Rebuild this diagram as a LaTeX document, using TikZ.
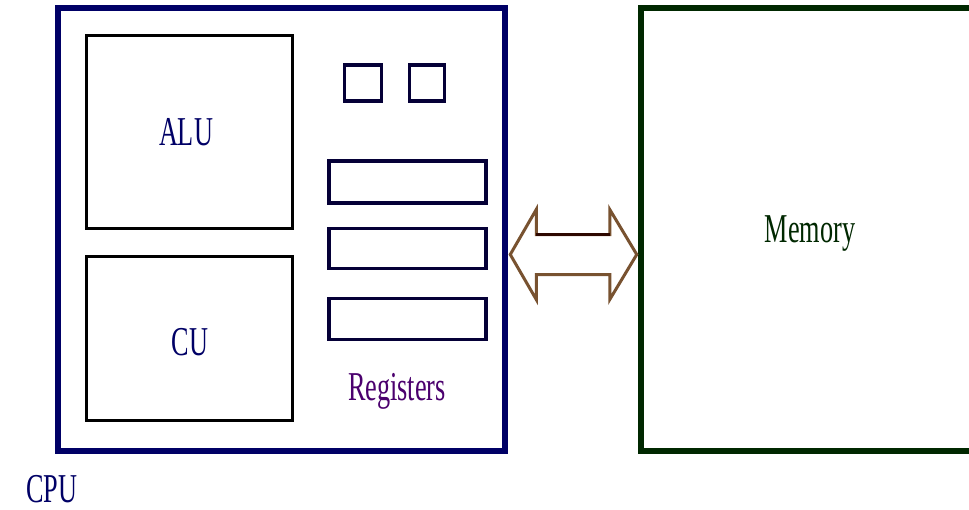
\documentclass[tikz,border=0pt]{standalone}
\usepackage{fontspec}
\setmainfont{Liberation Serif}
\usetikzlibrary{calc}
\definecolor{cpublue}{RGB}{0,0,102}
\definecolor{memgreen}{RGB}{0,40,0}
\definecolor{regblue}{RGB}{5,0,55}
\definecolor{regpurple}{RGB}{75,0,110}
\definecolor{arrbrown}{RGB}{120,82,48}
\definecolor{arrdark}{RGB}{45,8,0}
\tikzset{
  bigframe/.style={draw, line width=6.5pt, inner sep=0pt},
  unitbox/.style={draw=black, line width=3pt, inner sep=0pt},
  regbox/.style={draw=regblue, line width=3.5pt, inner sep=0pt},
  lbl/.style={anchor=base, inner sep=0pt, font=\fontsize{41}{41}\selectfont},
}
\newcommand{\sq}[1]{\scalebox{0.64}[1]{#1}}
\begin{document}
\begin{tikzpicture}[x=1pt,y=-1pt]
\useasboundingbox (0,0) rectangle (969,509);
\clip (0,0) rectangle (969,509);
\fill[white] (0,0) rectangle (969,509);
% CPU and memory frames
\node[bigframe, draw=cpublue, minimum width=447pt, minimum height=443pt] (cpu) at (281.5,229.5) {};
\node[bigframe, draw=memgreen, minimum width=360pt, minimum height=443pt] (mem) at (821,229.5) {};
% ALU and CU
\node[unitbox, minimum width=206pt, minimum height=193pt] (alu) at (189.5,131.5) {};
\node[unitbox, minimum width=206pt, minimum height=164pt] (cu) at (189.5,338) {};
% small registers
\node[regbox, minimum width=37pt, minimum height=36pt] (s1) at (363,83) {};
\node[regbox, minimum width=35pt, minimum height=36pt] (s2) at (427,83) {};
% register rows
\node[regbox, minimum width=157pt, minimum height=42pt] (r1) at (407.5,182) {};
\node[regbox, minimum width=157pt, minimum height=40pt] (r2) at (407.5,248.5) {};
\node[regbox, minimum width=157pt, minimum height=41pt] (r3) at (407.5,319) {};
% labels
\node[lbl, text=cpublue] (alut) at (186,145) {\sq{ALU}};
\node[lbl, text=cpublue] (cut) at (190,355) {\sq{CU}};
\node[lbl, text=regpurple] (regt) at (397,400) {\sq{Registers}};
\node[lbl, text=memgreen] (memt) at (810,242) {\sq{Memory}};
\node[lbl, text=cpublue, text depth=0pt] (cput) at (52,502) {\sq{CPU}};
% double arrow between CPU and memory
\coordinate (la) at ($(cpu.east)+(2,25)$);
\coordinate (ra) at ($(mem.west)+(-1,25)$);
\draw[arrbrown, line width=3pt, fill=white, line join=miter]
  (la) -- ++(26,-45) -- ++(0,25) coordinate (st1) -- ($(ra)+(-27,-20)$) coordinate (st2)
  -- ++(0,-25) -- (ra) -- ++(-27,45) -- ++(0,-25) -- ($(la)+(26,20)$) -- ++(0,25) -- cycle;
\draw[arrdark, line width=3pt] (st1) -- (st2);
\end{tikzpicture}
\end{document}
